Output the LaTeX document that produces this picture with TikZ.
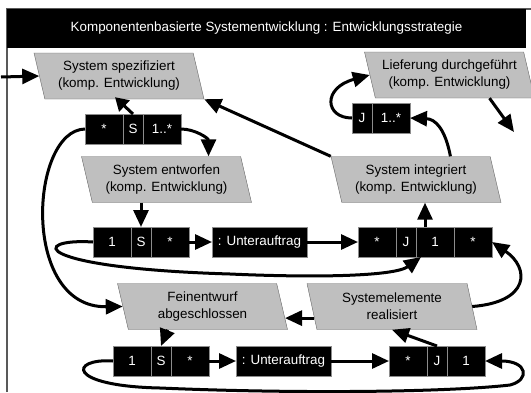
\documentclass[tikz,border=0pt]{standalone}
\usepackage{fontspec}
\setmainfont{Liberation Sans}
\usetikzlibrary{arrows.meta,positioning,shapes.geometric}

\begin{document}
\begin{tikzpicture}[
  x=1pt, y=-1pt,
  font=\fontsize{13.4}{17}\selectfont,
  state/.style={trapezium, trapezium left angle=109, trapezium right angle=71, trapezium stretches body,
    draw=black!60, fill=black!25, align=center, minimum width=170pt, minimum height=46pt, inner sep=1pt},
  cell/.style={draw=black!45, line width=0.6pt, fill=black, text=white, minimum height=30pt,
    minimum width=38pt, inner sep=0pt, outer sep=0pt},
  narrow/.style={cell, minimum width=20pt},
  longcell/.style={cell, minimum width=95pt},
  titlebar/.style={fill=black, text=white, minimum width=519pt, minimum height=39pt, inner sep=0pt},
  arrow/.style={-{Triangle[length=17pt,width=15pt]}, line width=3pt},
  shortarrow/.style={-{Triangle[length=13pt,width=15pt]}, line width=3pt}
]
\useasboundingbox (0,0) rectangle (531,392);
\draw[black!65, line width=1.5pt] (7,392) -- (7,9) -- (531,9);
\node[titlebar] (title) at (266.5,28.5) {Komponentenbasierte Systementwicklung : Entwicklungsstrategie};

\node[state] (spez) at (119,76) {System spezifiziert\\(komp. Entwicklung)};
\node[state] (lief) at (449.5,75) {Lieferung durchgeführt\\(komp. Entwicklung)};
\node[state] (entw) at (166.5,179.5) {System entworfen\\(komp. Entwicklung)};
\node[state] (integ) at (416,179.5) {System integriert\\(komp. Entwicklung)};
\node[state] (fein) at (202.5,306.5) {Feinentwurf\\abgeschlossen};
\node[state] (real) at (392,306.5) {Systemelemente\\realisiert};

\node[cell, anchor=west] (r1star) at (85,129) {*};
\node[narrow, right=0pt of r1star] (r1s) {S};
\node[cell, right=0pt of r1s] (r1mult) {1..*};

\node[narrow, anchor=west] (lj) at (352,118) {J};
\node[cell, right=0pt of lj] (lmult) {1..*};

\node[cell, anchor=west] (r2one) at (93,242) {1};
\node[narrow, right=0pt of r2one] (r2s) {S};
\node[cell, right=0pt of r2s] (r2star) {*};
\node[longcell, anchor=west] (r2sub) at (212,242) {: Unterauftrag};
\node[cell, anchor=west] (r2star2) at (358,242) {*};
\node[narrow, right=0pt of r2star2] (r2j) {J};
\node[cell, right=0pt of r2j] (r2one2) {1};
\node[cell, right=0pt of r2one2] (r2star3) {*};

\node[cell, anchor=west] (r3one) at (113,361) {1};
\node[narrow, right=0pt of r3one] (r3s) {S};
\node[cell, right=0pt of r3s] (r3star) {*};
\node[longcell, anchor=west] (r3sub) at (236,361) {: Unterauftrag};
\node[cell, anchor=west] (r3star2) at (389,361) {*};
\node[narrow, right=0pt of r3star2] (r3j) {J};
\node[cell, right=0pt of r3j] (r3one2) {1};

\coordinate (entry) at (1,77);
\coordinate (lout) at (514,132);
\path (real.bottom left corner) -- (real.top left corner) coordinate[pos=0.25] (rleft);
\path (fein.bottom right corner) -- (fein.top right corner) coordinate[pos=0.25] (fright);
\path (integ.top left corner) -- (integ.top right corner) coordinate[pos=0.75] (itop);

\draw[arrow] (entry) -- (spez.left side);
\draw[shortarrow] (r1s.north) -- ([xshift=-4pt,yshift=2pt]spez.south);
\draw[arrow] (r1mult.east) .. controls +(14,0) and +(0,-18) .. ([xshift=42pt]entw.north);
\draw[arrow] (r1star.west) .. controls (30,130) and (20,308) .. (fein.left side);
\draw[arrow] (entw.south -| r2s) -- (r2s.north);
\draw[arrow] (r2star) -- (r2sub);
\draw[arrow] (r2sub) -- (r2star2);
\draw[arrow] (r2one.west) .. controls (30,238) and (30,268) .. (230,274)
  .. controls (320,278) and (395,276) .. ([xshift=-14pt]r2one2.south);
\draw[arrow] ([xshift=-10pt]r2one2.north) -- ([xshift=-10pt]r2one2.north |- integ.south);
\draw[arrow] (real.right side) .. controls (530,302) and (530,268) .. (r2star3.east);
\draw[arrow] (rleft) -- (fright);
\draw[arrow] ([xshift=-35pt]fein.south) -- (r3s.north);
\draw[arrow] (r3star) -- (r3sub);
\draw[arrow] (r3sub) -- (r3star2);
\draw[arrow] (r3j.north) -- (real.south);
\draw[arrow] (r3one.west) .. controls (70,358) and (65,386) .. (160,388)
  .. controls (300,394) and (450,392) .. (510,385) .. controls (530,380) and (528,361) .. (r3one2.east);
\draw[arrow] (integ.top left corner) -- (spez.bottom right corner);
\draw[arrow] (itop) .. controls (445,128) and (435,119) .. (lmult.east);
\draw[arrow] (lj.west) .. controls (325,118) and (322,88) .. (lief.left side);
\draw[arrow] ([xshift=40pt]lief.south) -- (lout);
\end{tikzpicture}
\end{document}
